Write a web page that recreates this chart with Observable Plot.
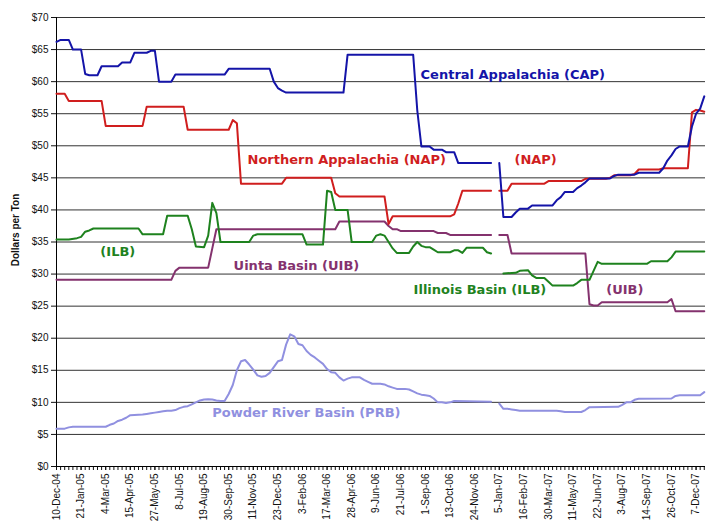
<!DOCTYPE html>
<html><head><meta charset="utf-8">
<script src="https://cdn.jsdelivr.net/npm/d3@7"></script>
<script src="https://cdn.jsdelivr.net/npm/@observablehq/plot@0.6"></script>
<style>
html,body{margin:0;padding:0;background:#fff;}
#chart{width:714px;height:521px;overflow:hidden;}
</style></head><body><div id="chart"></div>
<script>
// X categories: weekly observations starting 10-Dec-04 (week index 0); labels every 6 weeks
const tickLabels = ["10-Dec-04","21-Jan-05","4-Mar-05","15-Apr-05","27-May-05","8-Jul-05","19-Aug-05","30-Sep-05","11-Nov-05","23-Dec-05","3-Feb-06","17-Mar-06","28-Apr-06","9-Jun-06","21-Jul-06","1-Sep-06","13-Oct-06","24-Nov-06","5-Jan-07","16-Feb-07","30-Mar-07","11-May-07","22-Jun-07","3-Aug-07","14-Sep-07","26-Oct-07","7-Dec-07"];
const yTicks = [0,5,10,15,20,25,30,35,40,45,50,55,60,65,70];

// [week index, $ per ton]; null = missing week
const cap = [[0,66.2],[1,66.5],[3,66.5],[4,65.0],[6,65.0],[7,61.2],[8,61.0],[10,61.0],[11,62.4],[15,62.4],[16,63.0],[18,63.0],[19,64.5],[22,64.5],[23,64.8],[24,64.8],[25,60.0],[28,60.0],[29,61.1],[41,61.1],[42,62.0],[52,62.0],[53,60.0],[54,59.0],[55,58.6],[56,58.3],[70,58.3],[71,64.2],[87,64.2],[88,55.5],[89,49.9],[91,49.9],[92,49.4],[94,49.4],[95,49.0],[97,49.0],[98,47.3],[106,47.3],[107,null],[108,47.3],[109,38.9],[111,38.9],[112,39.6],[113,40.2],[115,40.2],[116,40.7],[121,40.7],[122,41.5],[123,42.0],[124,42.8],[126,42.8],[127,43.4],[128,43.8],[129,44.3],[130,44.9],[135,44.9],[136,45.3],[137,45.5],[141,45.5],[142,45.8],[147,45.8],[148,46.5],[149,47.7],[150,48.5],[151,49.5],[152,49.9],[154,49.9],[155,53.0],[156,55.0],[157,55.8],[158,57.7]];
const nap = [[0,58.1],[2,58.1],[3,57.0],[11,57.0],[12,53.1],[21,53.1],[22,56.1],[31,56.1],[32,52.5],[42,52.5],[43,54.0],[44,53.5],[45,44.1],[55,44.1],[56,45.0],[67,45.0],[68,42.6],[69,42.1],[80,42.1],[81,37.8],[82,39.0],[96,39.0],[97,39.3],[98,41.0],[99,43.0],[106,43.0],[107,null],[108,43.0],[110,43.0],[111,44.1],[119,44.1],[120,44.5],[128,44.5],[129,44.85],[134,44.85],[135,45.0],[136,45.4],[140,45.4],[141,45.6],[142,46.3],[147,46.3],[148,46.5],[154,46.5],[155,55.2],[156,55.6],[157,55.5],[158,55.3]];
const ilb = [[0,35.4],[3,35.4],[5,35.6],[6,35.8],[7,36.6],[8,36.8],[9,37.1],[20,37.1],[21,36.2],[26,36.2],[27,39.1],[32,39.1],[33,37.0],[34,34.3],[36,34.2],[37,36.0],[38,41.1],[39,39.5],[40,35.0],[47,35.0],[48,36.0],[49,36.2],[60,36.2],[61,34.6],[65,34.6],[66,43.0],[67,42.8],[68,40.0],[71,40.0],[72,35.0],[77,35.0],[78,36.0],[79,36.2],[80,36.0],[81,35.0],[82,34.0],[83,33.3],[86,33.3],[87,34.3],[88,35.0],[89,34.4],[90,34.2],[91,34.2],[92,33.8],[93,33.4],[96,33.4],[97,33.7],[98,33.7],[99,33.3],[100,34.1],[104,34.1],[105,33.4],[106,33.2],[107,null],[109,30.1],[112,30.2],[113,30.5],[115,30.6],[116,29.8],[117,29.4],[119,29.4],[120,28.8],[121,28.2],[126,28.2],[127,28.6],[128,29.1],[130,29.1],[131,30.5],[132,31.9],[133,31.6],[144,31.6],[145,32.0],[149,32.0],[150,32.6],[151,33.5],[158,33.5]];
const uib = [[0,29.1],[28,29.1],[29,30.5],[30,31.0],[37,31.0],[38,34.0],[39,37.0],[68,37.0],[69,38.2],[80,38.2],[81,37.5],[82,37.0],[83,37.0],[84,36.7],[92,36.7],[93,36.4],[95,36.4],[96,36.1],[106,36.1],[107,null],[108,36.1],[110,36.1],[111,33.2],[129,33.2],[130,25.3],[131,25.1],[132,25.1],[133,25.6],[149,25.6],[150,26.1],[151,24.2],[158,24.2]];
const prb = [[0,5.9],[2,5.9],[3,6.1],[4,6.2],[12,6.2],[13,6.5],[14,6.7],[15,7.1],[16,7.3],[17,7.6],[18,8.0],[21,8.1],[22,8.2],[23,8.3],[24,8.4],[25,8.5],[26,8.6],[27,8.7],[28,8.7],[29,8.8],[30,9.1],[31,9.3],[32,9.4],[33,9.7],[34,10.0],[35,10.3],[36,10.45],[37,10.5],[38,10.45],[39,10.3],[40,10.2],[41,10.2],[42,11.3],[43,12.7],[44,15.0],[45,16.4],[46,16.6],[47,15.9],[48,15.1],[49,14.2],[50,14.0],[51,14.1],[52,14.6],[53,15.5],[54,16.4],[55,16.6],[56,19.0],[57,20.6],[58,20.3],[59,19.1],[60,18.9],[61,18.0],[62,17.4],[63,17.0],[64,16.5],[65,16.0],[66,15.2],[67,14.7],[68,14.6],[69,13.9],[70,13.4],[71,13.7],[72,13.9],[74,13.9],[75,13.5],[76,13.2],[77,12.9],[79,12.9],[80,12.8],[81,12.5],[82,12.3],[83,12.1],[85,12.1],[86,12.0],[87,11.7],[88,11.4],[89,11.2],[90,11.1],[91,11.0],[92,10.6],[93,10.0],[94,10.0],[95,9.9],[96,10.0],[97,10.2],[106,10.1],[107,null],[108,9.8],[109,9.0],[110,9.0],[111,8.9],[112,8.8],[113,8.7],[122,8.7],[123,8.6],[124,8.5],[128,8.5],[129,8.8],[130,9.25],[137,9.3],[138,9.6],[139,10.0],[140,10.0],[141,10.4],[142,10.55],[150,10.6],[151,11.0],[152,11.1],[157,11.1],[158,11.6]];

const seriesNames = ["CAP","NAP","ILB","UIB","PRB"];
const seriesColors = ["#1414a8","#d01e1e","#1e821e","#84326e","#9090e0"];
const seriesPoints = [cap, nap, ilb, uib, prb];

// In-chart annotation texts, anchored in data units (week, $)
const annoTexts = ["Central Appalachia (CAP)","Northern Appalachia (NAP)","(NAP)","(ILB)","Uinta Basin (UIB)","Illinois Basin (ILB)","(UIB)","Powder River Basin (PRB)"];
const annoSeries = ["CAP","NAP","NAP","ILB","UIB","ILB","UIB","PRB"];
const annoWeek = [88.8, 46.6, 111.7, 10.7, 43.2, 87.1, 134.1, 38.0];
const annoValue = [61.0, 47.8, 47.8, 33.4, 31.3, 27.6, 27.6, 8.3];

const colorOf = Object.fromEntries(seriesNames.map((n,i)=>[n, seriesColors[i]]));
const annos = annoTexts.map((t,i)=>({text:t, w:annoWeek[i], v:annoValue[i], color: colorOf[annoSeries[i]]}));
const tickWeeks = tickLabels.map((_,i)=>i*6);
const weekTicks = d3.range(0, 159);

const lineMarks = seriesNames.map((n,i)=>Plot.line(seriesPoints[i].map(([w,v])=>({w, v})), {
  x:"w", y:"v", stroke: seriesColors[i], strokeWidth: 2, strokeLinejoin:"round", strokeLinecap:"round"
}));

const chart = Plot.plot({
  width:714, height:521,
  marginLeft:56, marginRight:9, marginTop:17, marginBottom:55,
  x:{domain:[0,158.3], axis:null},
  y:{domain:[0,70], axis:null},
  color:{type:"identity"},
  style:{fontFamily:"'Liberation Sans', Arial, sans-serif", fontSize:"10px", color:"#111", background:"#fff"},
  marks:[
    Plot.ruleY(yTicks.filter(d=>d>0), {stroke:"#333", strokeWidth:1, strokeOpacity:1}),
    Plot.axisY({ticks:yTicks, tickFormat:d=>"$"+d, tickSize:5, tickPadding:3, label:null, fontSize:10}),
    Plot.axisX({ticks:weekTicks, tickFormat:()=>"", tickSize:4, label:null}),
    Plot.axisX({ticks:tickWeeks, tickFormat:d=>tickLabels[Math.round(d/6)], tickRotate:-90, tickSize:4, tickPadding:3, label:null, fontSize:10}),
    Plot.ruleX([0], {stroke:"#000", strokeWidth:1}),
    Plot.ruleY([0], {stroke:"#000", strokeWidth:1}),
    ...lineMarks.reverse(),
    Plot.text(annos, {x:"w", y:"v", text:"text", fill:"color", textAnchor:"start", fontWeight:"bold", fontSize:13, fontFamily:"'DejaVu Sans', sans-serif"})
  ]
});

d3.select(chart).append("text")
  .attr("transform","translate(15,230) rotate(-90)")
  .attr("text-anchor","middle")
  .attr("dominant-baseline","central")
  .attr("font-weight","bold")
  .attr("font-size","10px")
  .attr("fill","#111")
  .text("Dollars per Ton");

document.getElementById("chart").appendChild(chart);
</script>
</body></html>
